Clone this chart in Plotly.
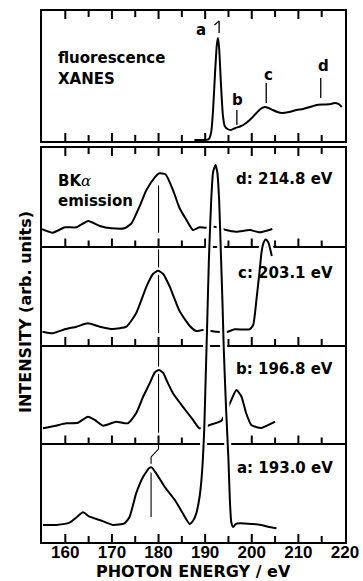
import plotly.graph_objects as go

# ---------------- data ----------------
# fluorescence XANES (top panel), intensity in arb. units
xanes_E = [187.7, 190.0, 190.8, 191.3, 191.7, 192.1, 192.5, 192.75, 193.0, 193.4, 193.8, 194.2,
           194.8, 195.5, 196.5, 197.5, 198.8, 200.0, 201.0, 202.0, 202.8, 203.6, 204.5, 205.5,
           206.5, 208.0, 209.6, 211.0, 212.5, 213.9, 215.5, 217.0, 217.8, 218.6, 219.3]
xanes_I = [1, 1, 2, 9, 31, 66, 96, 103, 93, 56, 26, 15,
           12, 11, 13, 14.5, 18, 23, 28, 32.5, 34, 33, 31, 29,
           28, 29, 31, 32, 34, 36, 36.5, 37, 38, 37, 34]

# BK-alpha emission spectra (each panel: 100 arb. units tall)
em_a_E = [155.2, 158.1, 160.9, 162.5, 163.8, 165.2, 167.4, 170.2, 172.7, 173.8, 175.2, 176.7,
          178.0, 178.5, 179.5, 181.3, 183.5, 185.2, 186.7, 187.5, 188.1, 188.8, 189.2, 189.5,
          189.8, 190.1, 190.4, 190.8, 191.3, 191.7, 192.2, 192.6, 193.0, 193.35, 193.7, 194.0,
          194.5, 195.0, 195.3, 195.6, 196.0, 196.6, 197.4, 198.5, 200.3, 202.0, 203.5, 205.3]
em_a_I = [17.3, 17.3, 19.6, 25.4, 30.1, 25.7, 22.3, 17.3, 19.0, 25.7, 49.4, 66.3,
          75.1, 75.8, 69.7, 56.1, 42.6, 29.1, 18.3, 22.3, 29.1, 45.7, 62.9, 83.2,
          113.7, 164.4, 215.2, 286.2, 347.1, 375.6, 382.7, 375.6, 347.1, 296.4, 245.6, 194.9,
          134.0, 83.2, 42.6, 20.3, 15.2, 18.3, 19.0, 18.8, 18.3, 17.3, 15.5, 13.9]

em_b_E = [155.2, 157.7, 160.2, 162.7, 164.85, 166.3, 168.1, 170.9, 173.4, 175.2, 176.7, 178.1,
          179.2, 180.1, 181.0, 181.7, 183.1, 185.2, 187.4, 188.8, 191.0, 193.5, 195.3, 196.7,
          197.8, 198.8, 199.9, 202.0, 205.0]
em_b_I = [15.4, 17.8, 20.5, 21.1, 27.2, 23.9, 18.1, 22.1, 20.5, 30.7, 47.5, 61.1,
          72.1, 74.6, 71.6, 64.5, 51.0, 37.4, 23.9, 15.4, 18.8, 23.1, 40.8, 54.3,
          47.5, 30.7, 18.8, 15.7, 22.1]

em_c_E = [155.1, 157.3, 159.9, 162.4, 164.85, 167.4, 170.2, 173.1, 175.2, 177.4, 178.8, 179.9,
          181.0, 182.4, 184.5, 186.7, 188.1, 189.5, 192.4, 194.9, 196.3, 199.5, 200.3, 201.0,
          201.7, 202.1, 202.5, 203.0, 203.5, 203.9, 204.3]
em_c_I = [13.5, 11.9, 15.9, 18.6, 22.0, 18.6, 16.2, 18.6, 32.2, 59.2, 72.1, 75.4,
          72.1, 59.2, 34.5, 19.3, 14.2, 15.2, 13.5, 13.5, 15.9, 15.9, 20.3, 45.7,
          76.1, 94.4, 103.5, 107.1, 104.5, 98.5, 90.3]

em_d_E = [155.0, 157.3, 159.9, 162.4, 164.9, 167.4, 169.9, 172.7, 174.2, 175.9, 177.4, 179.2,
          180.2, 181.5, 183.1, 184.5, 186.0, 187.4, 188.8, 190.1, 192.0, 193.5, 194.5, 196.7,
          199.6, 201.7, 204.4]
em_d_I = [17.5, 14.0, 19.5, 19.5, 25.9, 20.8, 18.5, 18.5, 23.5, 40.4, 57.3, 70.2,
          74.3, 73.3, 57.3, 39.1, 26.9, 16.7, 19.5, 19.1, 20.1, 18.5, 16.7, 15.0,
          16.7, 14.4, 17.8]

panel_names = ["a", "b", "c", "d"]
panel_offsets = [0, 100, 200, 300]
excitation_E = [193.0, 196.8, 203.1, 214.8]
panel_labels = ["a: 193.0 eV", "b: 196.8 eV", "c: 203.1 eV", "d: 214.8 eV"]
panel_label_I = [75, 176, 273, 369]

# guide line through the main emission peak (x, y in lower-box units)
guide_E = [180.0, 180.0, None, 180.0, 180.0, None, 180.0, 180.0, None, 180.0, 180.0, 178.4, 178.4]
guide_I = [362, 314, None, 297, 212, None, 198, 111, None, 100.5, 94.4, 86.3, 25.4]

# XANES feature markers (top panel)
mark_E = [192.0, 193.0, 193.0, None, 196.8, 196.8, None, 203.1, 203.1, None, 214.8, 214.8]
mark_I = [116, 120, 108, None, 31, 16, None, 58, 38, None, 63, 43]
mark_text_E = [189.2, 196.9, 203.6, 215.4]
mark_text_I = [111, 41, 66, 75]

major_ticks = [160, 170, 180, 190, 200, 210, 220]
inner_major = [160, 170, 180, 190, 200, 210]
inner_minor = [165, 175, 185, 195, 205, 215]

# ---------------- figure ----------------
BOLD = "DejaVu Sans"
fig = go.Figure()
MAJ, MIN = 8, 6           # tick lengths in px
LOWER_TOP, TOP_TOP = 400, 130
PX_LOW = 400 / 394.0      # lower-box data units per pixel
PX_TOP = 130 / 130.0      # top-panel data units per pixel


def tick_segments(base, direction, units_per_px):
    """Build tick segments (x, y lists with None breaks) from the tick arrays."""
    xs, ys = [], []
    for vals, ln in ((inner_major, MAJ), (inner_minor, MIN)):
        for v in vals:
            xs += [v, v, None]
            ys += [base, base + direction * ln * units_per_px, None]
    return xs, ys


tick_sets = [
    (0, +1, PX_TOP, "x", "y"),
    (TOP_TOP, -1, PX_TOP, "x", "y"),
    (0, +1, PX_LOW, "x5", "y5"),
    (LOWER_TOP, -1, PX_LOW, "x5", "y5"),
] + [(sep, +1, PX_LOW, "x5", "y5") for sep in panel_offsets[1:]]

for base, direc, upp, xa, ya in tick_sets:
    tx, ty = tick_segments(base, direc, upp)
    fig.add_trace(go.Scatter(x=tx, y=ty, mode="lines", xaxis=xa, yaxis=ya, hoverinfo="skip",
                             line=dict(color="black", width=2)))

# top panel XANES
fig.add_trace(go.Scatter(x=xanes_E, y=xanes_I, mode="lines", xaxis="x", yaxis="y",
                         line=dict(color="black", width=2, shape="spline", smoothing=0.5),
                         hoverinfo="skip"))
fig.add_trace(go.Scatter(x=mark_E, y=mark_I, mode="lines", xaxis="x", yaxis="y",
                         line=dict(color="black", width=1.3), hoverinfo="skip"))

# empty traces so the separator axes are created
for k in (2, 3, 4):
    fig.add_trace(go.Scatter(x=[None], y=[None], xaxis=f"x{k}", yaxis=f"y{k}",
                             showlegend=False, hoverinfo="skip"))

# guide line
fig.add_trace(go.Scatter(x=guide_E, y=guide_I, mode="lines", xaxis="x5", yaxis="y5",
                         line=dict(color="black", width=1.1), hoverinfo="skip"))

spectra = {"a": (em_a_E, em_a_I), "b": (em_b_E, em_b_I),
           "c": (em_c_E, em_c_I), "d": (em_d_E, em_d_I)}
for name in ["d", "c", "b", "a"]:
    off = panel_offsets[panel_names.index(name)]
    ex, iy = spectra[name]
    yy = [v + off for v in iy]
    fig.add_trace(go.Scatter(x=ex, y=yy, mode="lines", xaxis="x5", yaxis="y5",
                             line=dict(color="white", width=7, shape="spline", smoothing=0.5),
                             hoverinfo="skip"))
    fig.add_trace(go.Scatter(x=ex, y=yy, mode="lines", xaxis="x5", yaxis="y5",
                             line=dict(color="black", width=2, shape="spline", smoothing=0.5),
                             hoverinfo="skip"))

L = 0.742
common_x = dict(range=[155, 220], showline=True, linecolor="black", linewidth=1.8,
                ticks="", tickmode="array", tickvals=major_ticks,
                showgrid=False, zeroline=False, showticklabels=False, domain=[0, 1])
common_y = dict(showline=True, linecolor="black", linewidth=1.8, ticks="",
                showticklabels=False, showgrid=False, zeroline=False, mirror=True)

layout = dict(
    template="none",
    width=363, height=581, margin=dict(l=42, r=18, t=11, b=39),
    paper_bgcolor="white", plot_bgcolor="rgba(0,0,0,0)", showlegend=False,
    xaxis=dict(common_x, anchor="y", mirror=True),
    yaxis=dict(common_y, anchor="x", domain=[0.7552, 1], range=[0, TOP_TOP]),
    xaxis5=dict(common_x, anchor="y5", mirror=True, showticklabels=True,
                ticklabelstandoff=-6,
                tickfont=dict(family="Liberation Sans Narrow, Liberation Sans, Arial",
                              size=17, color="black", weight="bold")),
    yaxis5=dict(common_y, anchor="x5", domain=[0, L], range=[0, LOWER_TOP]),
)
for k, frac in zip((2, 3, 4), (0.25, 0.5, 0.75)):
    layout[f"xaxis{k}"] = dict(common_x, anchor=f"y{k}")
    layout[f"yaxis{k}"] = dict(anchor=f"x{k}", domain=[L * frac, L * frac + 0.05],
                               visible=False, range=[0, 1])
fig.update_layout(**layout)

ann = []
tf = dict(family=BOLD, size=15, color="black", weight="bold")
# top panel labels
ann.append(dict(x=157.9, y=83, xref="x", yref="y", text="fluorescence", showarrow=False,
                xanchor="left", yanchor="middle", font=tf))
ann.append(dict(x=157.9, y=62, xref="x", yref="y", text="XANES", showarrow=False,
                xanchor="left", yanchor="middle", font=tf))
for t, xe, yi in zip(["a", "b", "c", "d"], mark_text_E, mark_text_I):
    ann.append(dict(x=xe, y=yi, xref="x", yref="y", text=t, showarrow=False,
                    xanchor="center", yanchor="middle", font=tf))
# emission labels
ann.append(dict(x=157.9, y=367, xref="x5", yref="y5",
                text="BK<span style='font-family:DejaVu Serif;font-weight:normal'><i>α</i></span>",
                showarrow=False, xanchor="left", yanchor="middle", font=tf))
ann.append(dict(x=157.9, y=346, xref="x5", yref="y5", text="emission", showarrow=False,
                xanchor="left", yanchor="middle", font=tf))
for t, yi in zip(panel_labels, panel_label_I):
    ann.append(dict(x=217.8, y=yi, xref="x5", yref="y5", text=t, showarrow=False,
                    xanchor="right", yanchor="middle", font=tf))
# axis titles
ann.append(dict(x=0.5, y=(542 - 571) / 531, xref="paper", yref="paper",
                text="PHOTON ENERGY / eV", showarrow=False, xanchor="center",
                yanchor="middle", font=dict(family=BOLD, size=16, color="black", weight="bold")))
ann.append(dict(x=(26 - 42) / 303, y=(542 - 312) / 531, xref="paper", yref="paper",
                text="INTENSITY (arb. units)", showarrow=False, textangle=-90,
                xanchor="center", yanchor="middle",
                font=dict(family=BOLD, size=16, color="black", weight="bold")))
fig.update_layout(annotations=ann)

fig.write_html("out.html", config={"displayModeBar": False},
               post_script="document.body.style.margin='0';document.body.style.overflow='hidden';")
